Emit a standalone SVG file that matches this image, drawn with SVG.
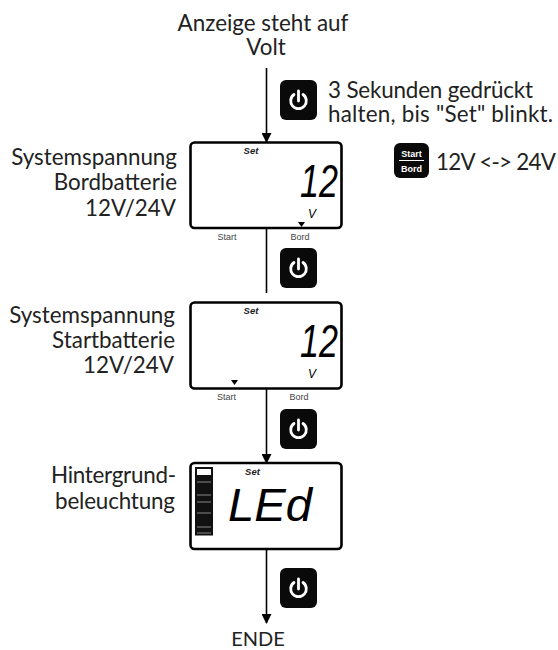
<svg xmlns="http://www.w3.org/2000/svg" width="558" height="650" viewBox="0 0 558 650">
<style>
.t{font-family:Lato,"Liberation Sans",sans-serif;font-size:22.4px;fill:#222}
.e{text-anchor:end}.m{text-anchor:middle}
.lcd{fill:none;stroke:#000;stroke-width:2.6}
.con{stroke:#000;stroke-width:1.6;fill:none}
.set{font-family:"Liberation Sans",sans-serif;font-size:9.5px;font-weight:bold;font-style:italic;text-anchor:middle;fill:#222}
.lab{font-family:"Liberation Sans",sans-serif;font-size:9px;text-anchor:middle;fill:#444}
.seg{font-family:"Liberation Sans",sans-serif;font-style:italic;fill:#000}
.btn{fill:#0a0a0a}
.pw{fill:none;stroke:#fff;stroke-width:2.8;stroke-linecap:round}
</style>
<defs>
<marker id="a" markerUnits="userSpaceOnUse" markerWidth="10" markerHeight="10" refX="9" refY="5" orient="auto"><path d="M0 0L10 5L0 10Z" fill="#000"/></marker>
<g id="pwr"><rect class="btn" x="-18.500" y="-20" width="37" height="40" rx="6"/><path class="pw" d="M-4.500 -5.500A7.800 7.800 0 1 0 4.500 -5.500M0 -9V1"/></g>
</defs>
<g id="connectors">
<path class="con" marker-end="url(#a)" d="M266.500 68V142"/>
<path class="con" d="M266.500 228V293"/>
<path class="con" marker-end="url(#a)" d="M266.500 389V463"/>
<path class="con" marker-end="url(#a)" d="M266.500 549V623"/>
</g>
<g id="start-label"><text class="t m" x="263" y="31">Anzeige steht auf</text><text class="t m" x="266" y="55">Volt</text></g>
<g id="button-1"><use href="#pwr" x="298.500" y="100"/></g>
<g id="hint-1"><text class="t" x="328" y="98" textLength="205">3 Sekunden gedrückt</text><text class="t" x="328" y="122" textLength="225">halten, bis "Set" blinkt.</text></g>
<g id="hint-2">
<rect class="btn" x="394" y="143" width="35" height="35" rx="6"/>
<text x="411.500" y="157" font-family="Liberation Sans,sans-serif" font-size="9" font-weight="bold" fill="#fff" text-anchor="middle">Start</text>
<path d="M399 160.500H424" stroke="#fff" stroke-width="1"/>
<text x="411.500" y="172" font-family="Liberation Sans,sans-serif" font-size="9" font-weight="bold" fill="#fff" text-anchor="middle">Bord</text>
<text class="t" x="436" y="170" textLength="120">12V &lt;-&gt; 24V</text></g>
<g id="display-1">
<rect class="lcd" x="190.500" y="142.500" width="151" height="85.500" rx="4"/>
<text class="set" x="251" y="154">Set</text>
<text class="seg" x="300" y="196.500" font-size="46" textLength="38" lengthAdjust="spacingAndGlyphs">12</text>
<text class="seg" x="308" y="217.500" font-size="12">V</text>
<path d="M298 222H305L301.500 227Z" fill="#000"/>
<text class="lab" x="227" y="240">Start</text><text class="lab" x="300" y="240">Bord</text>
<text class="t e" x="177" y="165">Systemspannung</text><text class="t e" x="177" y="190">Bordbatterie</text><text class="t e" x="176" y="215.500">12V/24V</text>
</g>
<g id="button-2"><use href="#pwr" x="298.500" y="268"/></g>
<g id="display-2">
<rect class="lcd" x="190.500" y="302.500" width="151" height="86" rx="4"/>
<text class="set" x="251" y="314">Set</text>
<text class="seg" x="300" y="356.500" font-size="46" textLength="38" lengthAdjust="spacingAndGlyphs">12</text>
<text class="seg" x="308" y="377.500" font-size="12">V</text>
<path d="M231 380H238L234.500 385Z" fill="#000"/>
<text class="lab" x="226.500" y="400">Start</text><text class="lab" x="299" y="400">Bord</text>
<text class="t e" x="175" y="323">Systemspannung</text><text class="t e" x="175" y="348">Startbatterie</text><text class="t e" x="174" y="372.500">12V/24V</text>
</g>
<g id="button-3"><use href="#pwr" x="298.500" y="429"/></g>
<g id="display-3">
<rect class="lcd" x="190.500" y="463" width="151" height="86" rx="4"/>
<text class="set" x="252.500" y="474.500">Set</text>
<rect x="195" y="467" width="18" height="68.500" fill="#111"/>
<rect x="197" y="469" width="14" height="6" fill="#fff"/>
<path d="M197 482H211M197 495H211M197 502H211M197 513H211M197 527H211M197 533H211" stroke="#888" stroke-width="1"/>
<text class="seg" x="228" y="521" font-size="47" textLength="84" lengthAdjust="spacingAndGlyphs">LEd</text>
<text class="t e" x="176" y="483" textLength="125">Hintergrund-</text><text class="t e" x="175" y="509" textLength="120">beleuchtung</text>
</g>
<g id="button-4"><use href="#pwr" x="298.500" y="588"/></g>
<g id="end"><text class="t m" x="258" y="645.500" style="font-size:20px">ENDE</text></g>
</svg>
